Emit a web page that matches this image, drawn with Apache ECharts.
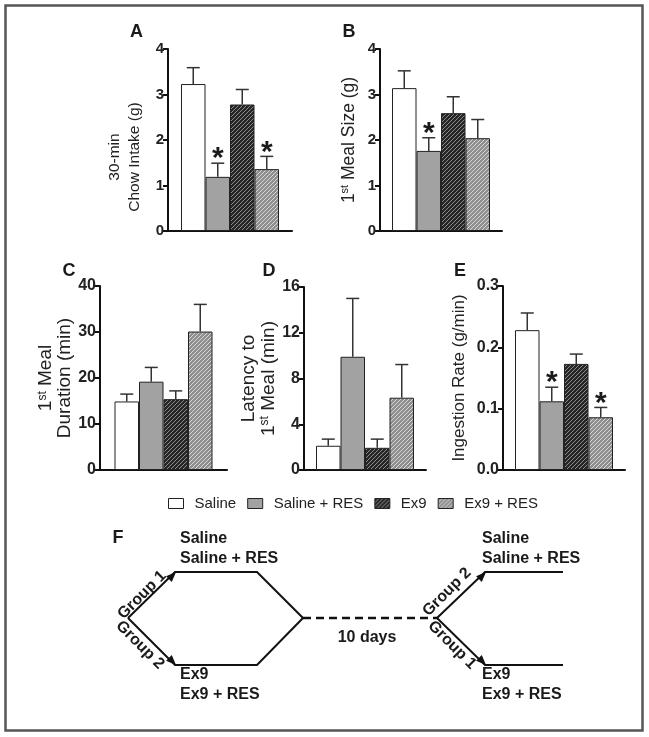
<!DOCTYPE html>
<html><head><meta charset="utf-8">
<script src="https://cdn.jsdelivr.net/npm/echarts@6/dist/echarts.min.js"></script>
<style>html,body{margin:0;padding:0;background:#fff}#c{width:649px;height:737px}</style>
</head><body><div id="c"></div>
<script>
// ---- data ----
const groups = ['Saline', 'Saline + RES', 'Ex9', 'Ex9 + RES'];
const chowMean = [3.23, 1.19, 2.78, 1.36];
const chowErr = [0.36, 0.30, 0.33, 0.28];
const chowStar = [0, 1, 0, 1];
const mealSizeMean = [3.14, 1.76, 2.59, 2.04];
const mealSizeErr = [0.38, 0.29, 0.36, 0.41];
const mealSizeStar = [0, 1, 0, 0];
const durationMean = [14.9, 19.2, 15.4, 30.1];
const durationErr = [1.6, 3.1, 1.8, 5.9];
const durationStar = [0, 0, 0, 0];
const latencyMean = [2.12, 9.9, 1.94, 6.32];
const latencyErr = [0.58, 5.1, 0.76, 2.9];
const latencyStar = [0, 0, 0, 0];
const rateMean = [0.228, 0.112, 0.173, 0.086];
const rateErr = [0.028, 0.023, 0.016, 0.016];
const rateStar = [0, 1, 0, 1];
const ticksA = [0, 4, 1], ticksB = [0, 4, 1], ticksC = [0, 40, 10], ticksD = [0, 16, 4], ticksE = [0, 0.3, 0.1];

// ---- style ----
const FF = "'Liberation Sans', Arial, sans-serif";
function hatch(bg, fg, size, lw) {
  const c = document.createElement('canvas');
  c.width = size; c.height = size;
  const x = c.getContext('2d');
  x.fillStyle = bg; x.fillRect(0, 0, size, size);
  x.strokeStyle = fg; x.lineWidth = lw;
  x.beginPath();
  for (const k of [-size, 0, size]) { x.moveTo(k, size); x.lineTo(k + size, 0); }
  x.stroke();
  return c;
}
const fills = ['#ffffff', '#a2a2a2',
  { image: hatch('#262626', '#8c8c8c', 4, 1), repeat: 'repeat' },
  { image: hatch('#8f8f8f', '#d6d6d6', 4, 1), repeat: 'repeat' }];
const BW = 24.5;

const panels = [
  { mean: chowMean, err: chowErr, star: chowStar, t: ticksA, grid: { left: 168, top: 49, width: 124, height: 182 },
    name: '30-min\nChow Intake (g)', gap: 23, fs: 15.5, lh: 20, tfs: 15, pad: [0, 34, 0, 0], fmt: v => String(v) },
  { mean: mealSizeMean, err: mealSizeErr, star: mealSizeStar, t: ticksB, grid: { left: 380, top: 49, width: 122, height: 182 },
    name: '1{sup|st} Meal Size (g)', gap: 21, fs: 17.5, lh: 20, tfs: 15, pad: [0, 0, 0, 0], fmt: v => String(v) },
  { mean: durationMean, err: durationErr, star: durationStar, t: ticksC, grid: { left: 100, top: 286, width: 127, height: 184 },
    name: '1{sup|st} Meal\nDuration (min)', gap: 18, fs: 19, lh: 19, tfs: 16, pad: [0, 0, 0, 0], fmt: v => String(v) },
  { mean: latencyMean, err: latencyErr, star: latencyStar, t: ticksD, grid: { left: 304, top: 287, width: 122, height: 183 },
    name: 'Latency to\n1{sup|st} Meal (min)', gap: 25, fs: 19, lh: 20, tfs: 16, pad: [0, 0, 0, 0], fmt: v => String(v) },
  { mean: rateMean, err: rateErr, star: rateStar, t: ticksE, grid: { left: 503, top: 286, width: 122, height: 184 },
    name: 'Ingestion Rate (g/min)', gap: 34, fs: 17, lh: 20, tfs: 16, pad: [0, 0, 0, 0], fmt: v => v.toFixed(1) }
];

const grid = [], xAxis = [], yAxis = [], series = [];
panels.forEach((p, i) => {
  grid.push(p.grid);
  xAxis.push({ type: 'category', gridIndex: i, data: [''], axisTick: { show: false }, axisLabel: { show: false },
    axisLine: { lineStyle: { color: '#111', width: 2 } } });
  yAxis.push({ type: 'value', gridIndex: i, min: p.t[0], max: p.t[1], interval: p.t[2],
    splitLine: { show: false },
    axisLine: { show: true, lineStyle: { color: '#111', width: 2 } },
    axisTick: { show: true, length: 5, lineStyle: { color: '#111', width: 2 } },
    axisLabel: { margin: 4, color: '#222', fontSize: p.tfs, fontWeight: 'bold', fontFamily: FF, formatter: p.fmt },
    name: p.name, nameLocation: 'middle', nameRotate: 90, nameGap: p.gap,
    nameTextStyle: { color: '#222', fontSize: p.fs, fontFamily: FF, lineHeight: p.lh, padding: p.pad,
      rich: { sup: { fontSize: Math.round(p.fs * 0.65), fontFamily: FF, color: '#222', verticalAlign: 'top', lineHeight: p.lh } } } });
  groups.forEach((g, k) => {
    series.push({ name: g, type: 'bar', xAxisIndex: i, yAxisIndex: i, data: [p.mean[k]],
      barWidth: BW, barGap: '0%', z: 2,
      itemStyle: { color: fills[k], borderColor: '#222', borderWidth: 1 } });
  });
  series.push({ type: 'custom', xAxisIndex: i, yAxisIndex: i, z: 3,
    data: groups.map((g, k) => [0, k, p.mean[k], p.mean[k] + p.err[k], p.star[k]]),
    encode: { x: 0, y: 3 },
    renderItem: function (params, api) {
      const k = api.value(1), top = api.value(2), hi = api.value(3), st = api.value(4);
      const c = api.coord([0, top]), h = api.coord([0, hi]);
      const cx = c[0] + (k - 1.5) * BW;
      const ch = [
        { type: 'line', shape: { x1: cx, y1: c[1], x2: cx, y2: h[1] }, style: { stroke: '#333', lineWidth: 1.5 } },
        { type: 'line', shape: { x1: cx - 6.5, y1: h[1], x2: cx + 6.5, y2: h[1] }, style: { stroke: '#333', lineWidth: 1.5 } }
      ];
      if (st) ch.push({ type: 'text', x: cx, y: h[1] - 4,
        style: { text: '*', fill: '#1a1a1a', font: 'bold 30px ' + FF, align: 'center', verticalAlign: 'middle' } });
      return { type: 'group', children: ch };
    } });
});

// ---- panel F diagram (graphic) ----
const g = [];
const LC = '#111';
function ln(pts, extra) { g.push(Object.assign({ type: 'polyline', shape: { points: pts }, style: { stroke: LC, lineWidth: 2, fill: null } }, extra || {})); }
function arrow(tx, ty, dx, dy) {
  const L = Math.hypot(dx, dy); dx /= L; dy /= L;
  const len = 10, hw = 4;
  const bx = tx - dx * len, by = ty - dy * len;
  g.push({ type: 'polygon', shape: { points: [[tx, ty], [bx - dy * hw, by + dx * hw], [bx + dy * hw, by - dx * hw]] }, style: { fill: LC } });
}
function txt(x, y, s, size, opt) {
  g.push(Object.assign({ type: 'text', x: x, y: y, style: Object.assign({ text: s, fill: '#1a1a1a', font: 'bold ' + size + 'px ' + FF, align: 'left', verticalAlign: 'middle' }, (opt && opt.style) || {}) }, (opt && opt.el) || {}));
}
g.push({ type: 'rect', shape: { x: 5.5, y: 5.5, width: 637, height: 725 }, style: { fill: null, stroke: '#555', lineWidth: 2.5 } });
// panel letters
[['A', 136.5, 32], ['B', 349, 32], ['C', 69, 271], ['D', 269, 271], ['E', 460, 271], ['F', 118, 538]].forEach(a =>
  txt(a[1], a[2], a[0], 18, { style: { align: 'center' } }));
// left hexagon
ln([[128, 618], [175, 572], [257, 572], [303, 618]]);
ln([[128, 618], [175, 665], [257, 665], [303, 618]]);
arrow(176, 572, 1, -1);
arrow(176, 665, 1, 1);
ln([[303, 618], [437, 618]], { style: { stroke: LC, lineWidth: 2.5, lineDash: [8, 5], fill: null } });
ln([[437, 618], [485, 572], [563, 572]]);
ln([[437, 618], [485, 665], [563, 665]]);
arrow(486, 572, 1, -1);
arrow(486, 665, 1, 1);
txt(180, 539, 'Saline', 16); txt(180, 559, 'Saline + RES', 16);
txt(180, 675, 'Ex9', 16); txt(180, 695, 'Ex9 + RES', 16);
txt(482, 539, 'Saline', 16); txt(482, 559, 'Saline + RES', 16);
txt(482, 675, 'Ex9', 16); txt(482, 695, 'Ex9 + RES', 16);
txt(367, 638, '10 days', 16, { style: { align: 'center' } });
txt(142, 595, 'Group 1', 16, { style: { align: 'center' }, el: { rotation: Math.PI / 4 } });
txt(140, 645, 'Group 2', 16, { style: { align: 'center' }, el: { rotation: -Math.PI / 4 } });
txt(447, 592, 'Group 2', 16, { style: { align: 'center' }, el: { rotation: Math.PI / 4 } });
txt(452, 645, 'Group 1', 16, { style: { align: 'center' }, el: { rotation: -Math.PI / 4 } });

const chart = echarts.init(document.getElementById('c'), null, { renderer: 'canvas' });
chart.setOption({
  animation: false,
  backgroundColor: '#ffffff',
  grid: grid, xAxis: xAxis, yAxis: yAxis, series: series,
  legend: { data: groups, left: 163, top: 491, itemWidth: 15, itemHeight: 10, itemGap: 11, icon: 'rect',
    selectedMode: false,
    itemStyle: { borderColor: '#222', borderWidth: 1 },
    textStyle: { fontSize: 15, fontFamily: FF, color: '#222', padding: [0, 0, 0, 6] } },
  graphic: g
});
</script></body></html>
